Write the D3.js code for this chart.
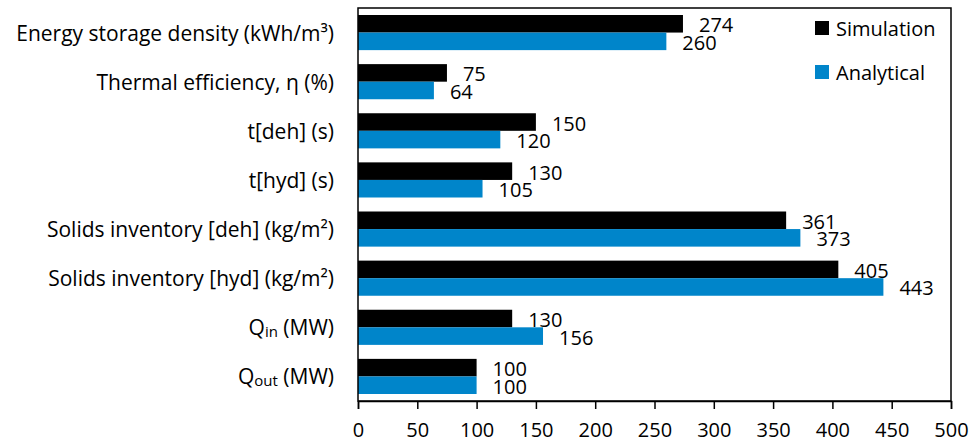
<!DOCTYPE html>
<html>
<head>
<meta charset="utf-8">
<script src="https://cdn.jsdelivr.net/npm/d3@7"></script>
<style>
  body { margin: 0; background: #fff; }
  svg text { font-family: "Open Sans", "Liberation Sans", sans-serif; fill: #000; }
</style>
</head>
<body>
<svg id="chart" width="971" height="442"></svg>
<script>
// ---- data ----
const categories = [
  "Energy storage density (kWh/m³)",
  "Thermal efficiency, η (%)",
  "t[deh] (s)",
  "t[hyd] (s)",
  "Solids inventory [deh] (kg/m²)",
  "Solids inventory [hyd] (kg/m²)",
  "Q_in (MW)",
  "Q_out (MW)"
];
const simulation = [274, 75, 150, 130, 361, 405, 130, 100];
const analytical = [260, 64, 120, 105, 373, 443, 156, 100];
const seriesNames = ["Simulation", "Analytical"];
const xTicks = [0, 50, 100, 150, 200, 250, 300, 350, 400, 450, 500];

// ---- layout ----
const colors = ["#000000", "#0085ca"];
const pLeft = 358, pRight = 951, pTop = 8, pBottom = 401;
const svg = d3.select("#chart");

const x = d3.scaleLinear().domain([0, 500]).range([pLeft, pRight]);
const y = d3.scaleBand().domain(categories).range([pTop, pBottom])
  .paddingInner(0.285).paddingOuter(0.1425);
const sub = d3.scaleBand().domain(seriesNames).range([0, y.bandwidth()]);

const series = [simulation, analytical];

// bars
series.forEach((vals, si) => {
  svg.append("g").selectAll("rect").data(vals).join("rect")
    .attr("x", x(0))
    .attr("y", (d, i) => y(categories[i]) + sub(seriesNames[si]))
    .attr("width", d => x(d) - x(0))
    .attr("height", sub.bandwidth())
    .attr("fill", colors[si]);
  svg.append("g").selectAll("text").data(vals).join("text")
    .attr("x", d => x(d) + 16)
    .attr("y", (d, i) => y(categories[i]) + sub(seriesNames[si]) + sub.bandwidth() / 2 + 1)
    .attr("dominant-baseline", "central")
    .attr("font-size", 20)
    .text(d => d);
});

// plot border
svg.append("rect")
  .attr("x", pLeft).attr("y", pTop)
  .attr("width", pRight - pLeft).attr("height", pBottom - pTop)
  .attr("fill", "none").attr("stroke", "#000").attr("stroke-width", 1.5);

// x axis
const xAxis = svg.append("g")
  .attr("transform", `translate(0,${pBottom})`)
  .call(d3.axisBottom(x).tickValues(xTicks).tickSize(8).tickPadding(14).tickFormat(d3.format("d")));
xAxis.select(".domain").attr("stroke", "#000").attr("stroke-width", 1.5);
xAxis.selectAll(".tick line").attr("stroke", "#000").attr("stroke-width", 1.5);
xAxis.selectAll(".tick text").attr("font-size", 20)
  .attr("font-family", "'Open Sans', 'Liberation Sans', sans-serif").attr("fill", "#000");

// category labels
const catG = svg.append("g");
categories.forEach(c => {
  const t = catG.append("text")
    .attr("x", 334)
    .attr("y", y(c) + y.bandwidth() / 2)
    .attr("text-anchor", "end")
    .attr("dominant-baseline", "central")
    .attr("font-size", 21);
  const m = c.match(/^Q_(\w+)(.*)$/);
  if (m) {
    t.append("tspan").text("Q");
    t.append("tspan").attr("font-size", 15).attr("dy", 4).text(m[1]);
    t.append("tspan").attr("dy", -4).text(m[2]);
  } else {
    t.text(c);
  }
});

// legend
const legend = svg.append("g");
seriesNames.forEach((n, i) => {
  const ly = 28 + i * 44;
  legend.append("rect").attr("x", 815).attr("y", ly - 7).attr("width", 14).attr("height", 14)
    .attr("fill", colors[i]);
  legend.append("text").attr("x", 836).attr("y", ly)
    .attr("dominant-baseline", "central").attr("font-size", 20).text(n);
});
</script>
</body>
</html>
